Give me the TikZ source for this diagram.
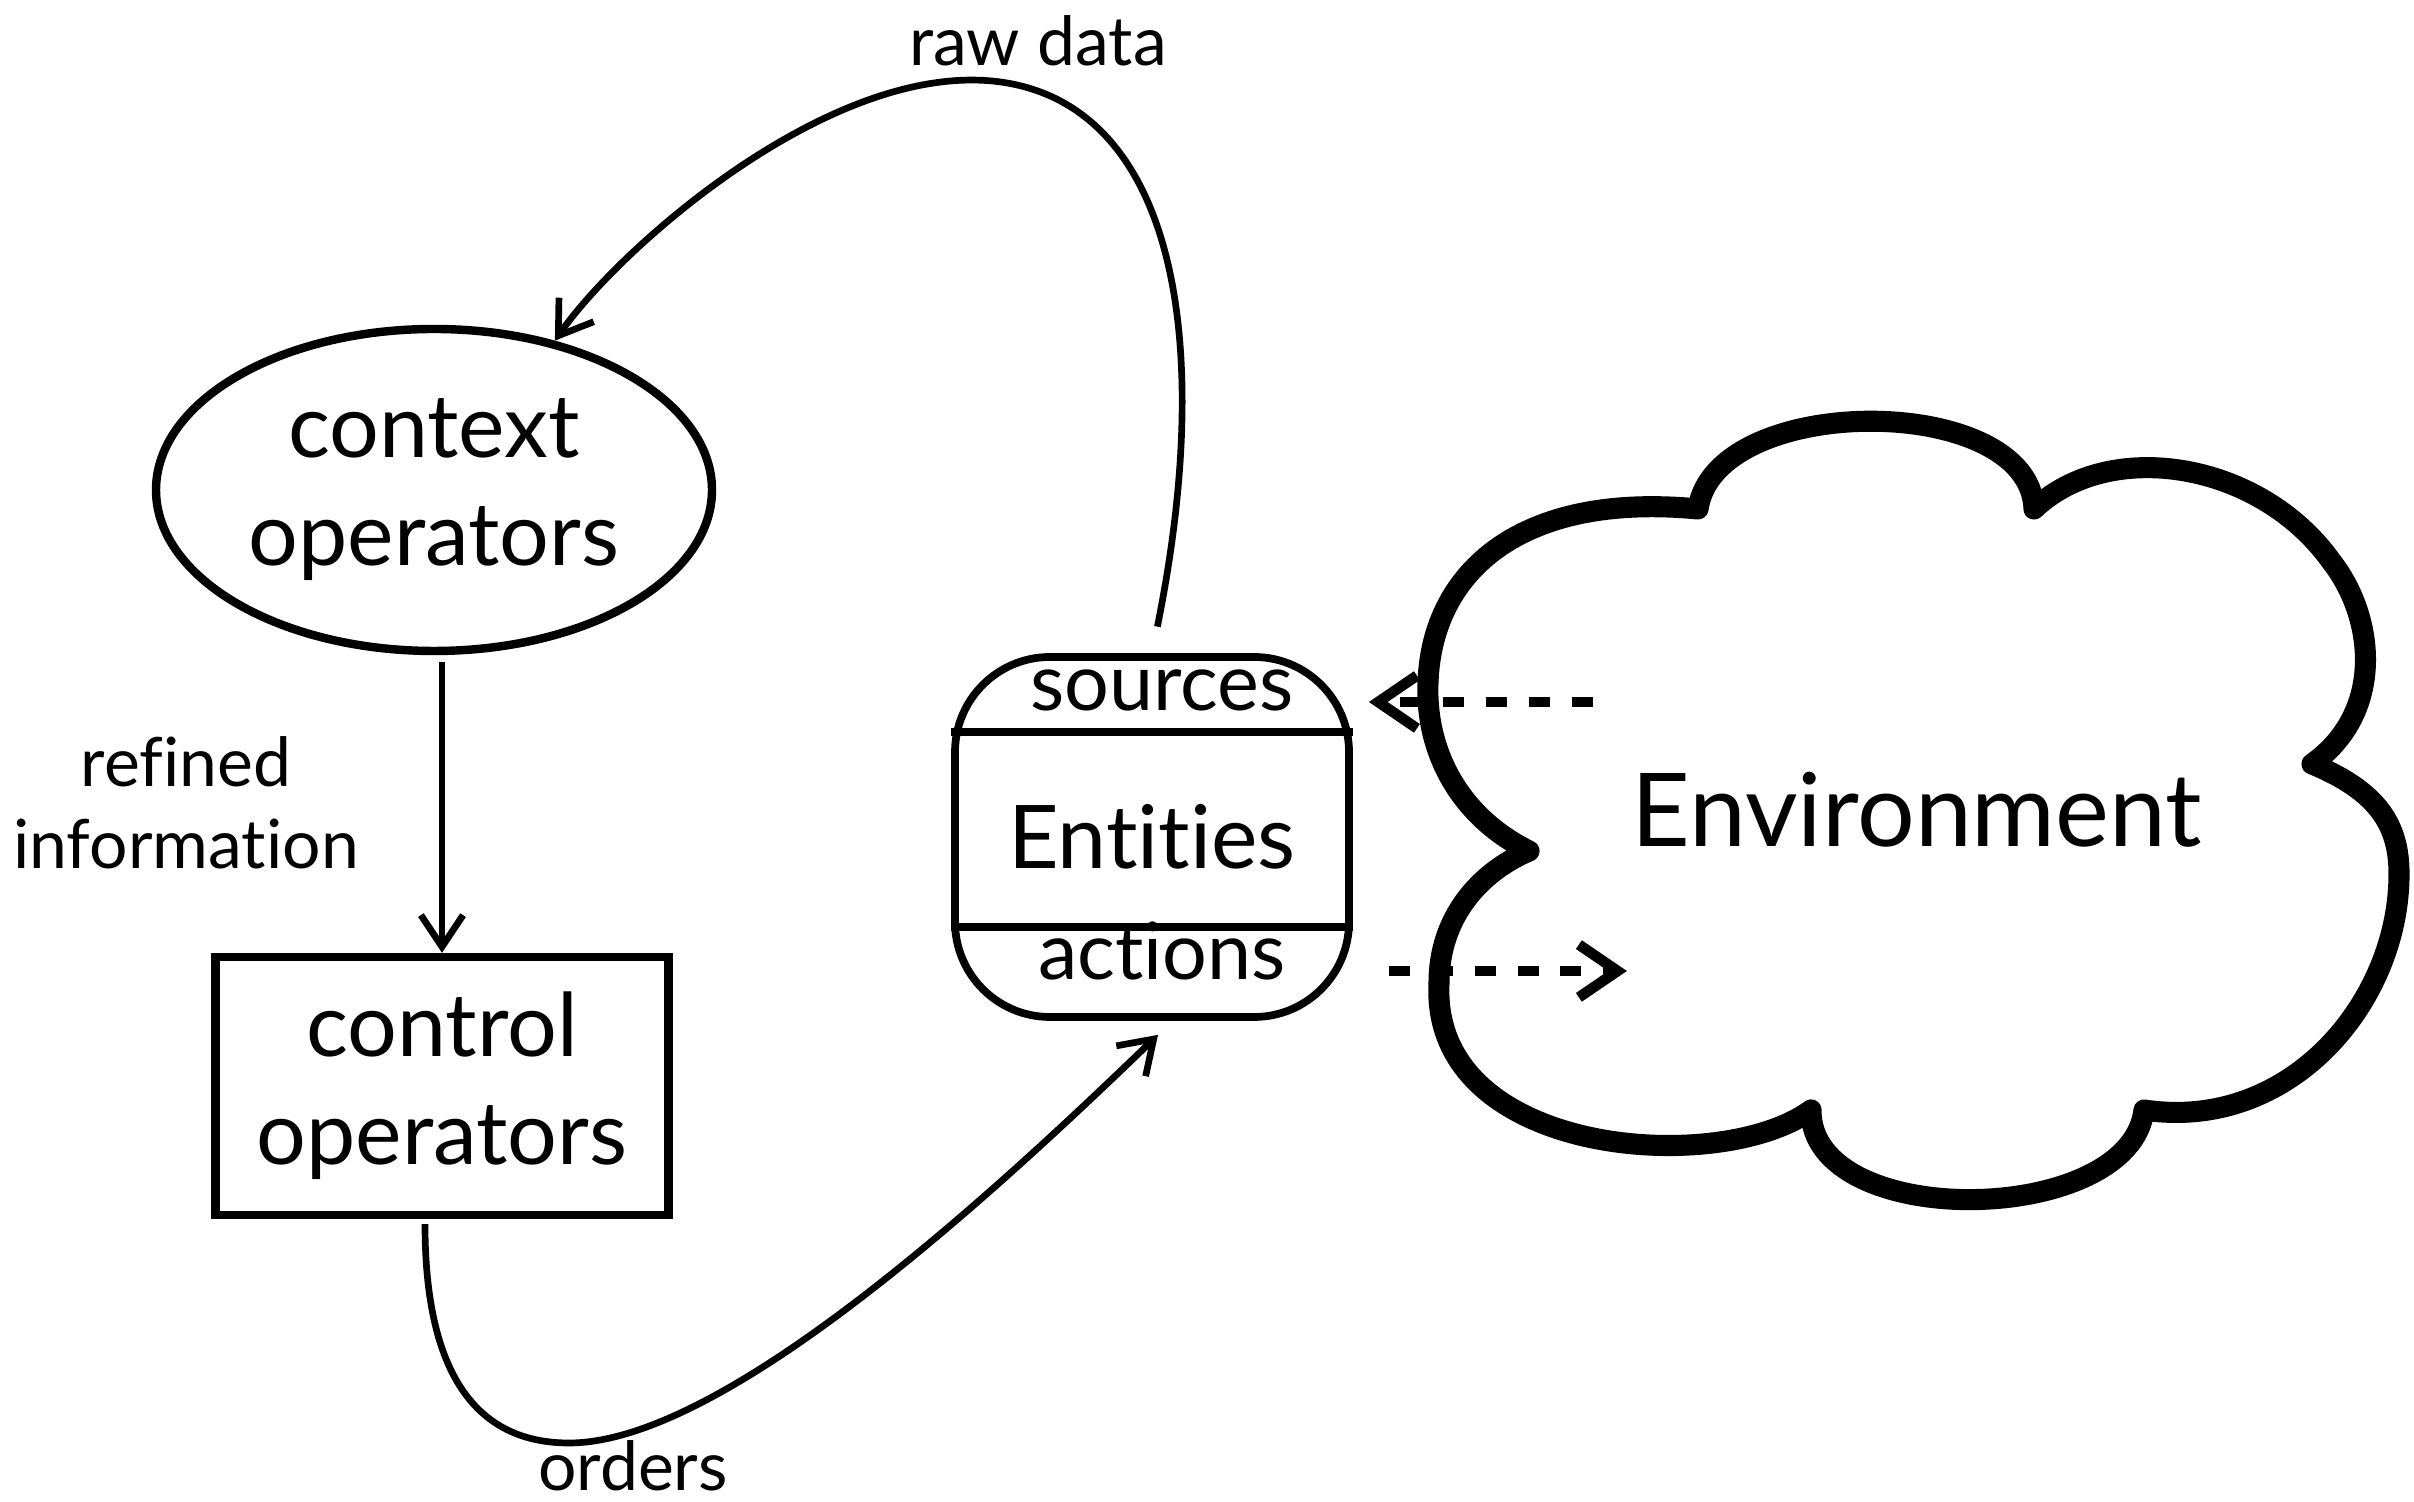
\documentclass[tikz,border=0pt]{standalone}
\usepackage{fontspec}
\setmainfont{Lato}[Ligatures={NoCommon,NoContextual}]
\usetikzlibrary{arrows.meta,positioning,calc,shapes.geometric}

\begin{document}
\begin{tikzpicture}[
      oval/.style={draw, ellipse, line width=2.4pt, minimum width=5.56cm, minimum height=3.22cm,
                   inner sep=0pt, align=center, font=\fontsize{25}{30.7}\selectfont},
      blk/.style={draw, line width=2.4pt, minimum width=4.53cm, minimum height=2.58cm,
                  align=center, font=\fontsize{25}{30.7}\selectfont},
      rbox/.style={draw, line width=2.2pt, rounded corners=0.95cm, minimum width=3.94cm,
                   minimum height=3.6cm, font=\fontsize{25}{30}\selectfont},
      part/.style={font=\fontsize{22.5}{27}\selectfont, inner sep=0pt, anchor=mid},
      lbl/.style={font=\fontsize{19.3}{23.3}\selectfont, align=center, inner sep=0pt},
      arr/.style={-{Straight Barb[length=9pt,width=12pt]}, line width=1.9pt},
      darr/.style={-{Straight Barb[length=11pt,width=15pt]}, line width=3pt, dash pattern=on 6pt off 6.2pt},
      cloudln/.style={line width=6pt, line join=round}]
    \useasboundingbox (0,0) rectangle (24.14,15.02);
    % operators
    \node[oval] (ctx) at (4.34,10.12) {context\\operators};
    \node[blk] (ctrl) at (4.42,4.16) {control\\operators};
    \node[lbl] (refined) at (1.86,6.99) {refined\\information};
    % entities
    \node[rbox] (ent) at (11.52,6.65) {Entities};
    \node[part] (src) at (11.62,8.0) {sources};
    \node[part] (act) at (11.62,5.31) {actions};
    \draw[line width=2.2pt] ($(ent.north west)!0.215!(ent.south west)$) -- ($(ent.north east)!0.215!(ent.south east)$);
    \draw[line width=2.2pt] ($(ent.north west)!0.744!(ent.south west)$) -- ($(ent.north east)!0.744!(ent.south east)$);
    % environment
    \draw[cloudln] (16.98,9.93) .. controls (17.15,11.1) and (20.3,11.1) .. (20.34,9.93)
      .. controls (21.1,10.65) and (22.6,10.4) .. (23.31,9.41)
      .. controls (23.75,8.85) and (23.85,7.9) .. (23.12,7.38)
      .. controls (23.8,7.1) and (23.99,6.75) .. (23.99,6.28)
      .. controls (23.99,5.0) and (22.9,3.7) .. (21.44,3.92)
      .. controls (21.3,2.75) and (18.1,2.7) .. (18.11,3.92)
      .. controls (17.2,3.25) and (14.3,3.45) .. (14.39,5.19)
      .. controls (14.39,5.85) and (14.8,6.3) .. (15.29,6.51)
      .. controls (14.6,6.85) and (14.25,7.5) .. (14.28,8.2)
      .. controls (14.32,9.3) and (15.2,10.1) .. (16.98,9.93) -- cycle;
    \node[font=\fontsize{29}{34}\selectfont] (env) at (19.17,6.92) {Environment};
    % flows
    \node[lbl] (raw) at (10.38,14.61) {raw data};
    \node[lbl] (ord) at (6.33,0.36) {orders};
    \draw[arr, shorten <=0.07cm] (ctx.south -| ctrl.north) -- (ctrl.north);
    \draw[arr, shorten <=0.27cm] (ent.north) .. controls (12.15,11.6) and (11.75,13.9) .. (10.07,14.19)
      .. controls (8.38,14.48) and (6.19,12.54) .. (ctx.51);
    \draw[arr] ($(ctrl.south)+(-0.17,-0.05)$) .. controls (4.25,1.3) and (4.75,0.59) .. (5.69,0.59)
      .. controls (7.2,0.59) and (9.8,2.95) .. ($(ent.south)+(0.06,-0.14)$);
    \draw[darr] ($(ent.east |- src.mid)+(2.4,0)$) -- ($(ent.east |- src.mid)+(0.16,0)$);
    \draw[darr] ($(ent.east |- act.mid)+(0.36,0)$) -- ($(ent.east |- act.mid)+(2.74,0)$);
  \end{tikzpicture}
\end{document}
